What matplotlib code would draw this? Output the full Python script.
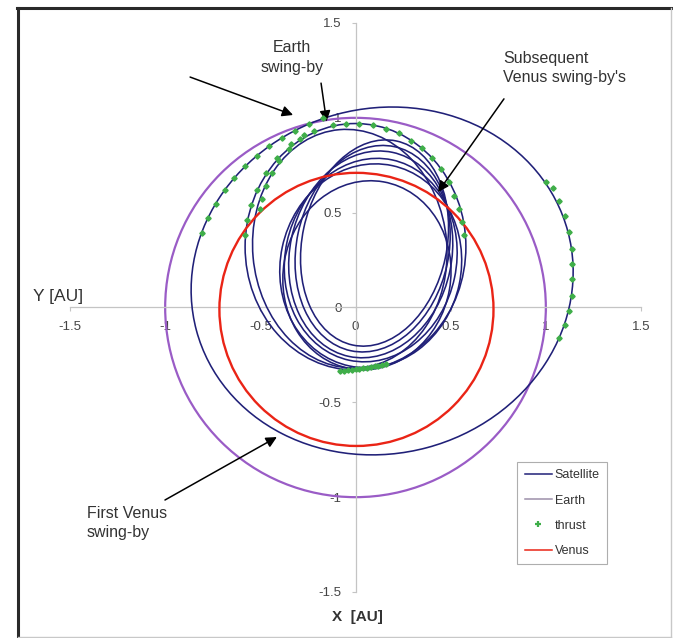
import matplotlib.pyplot as plt
from matplotlib.patches import Ellipse, Circle
from matplotlib.lines import Line2D

plt.rcParams['font.family'] = ['Liberation Sans', 'DejaVu Sans']

W, H = 673, 638

# --------- orbits [AU] ---------
earth_r = 1.0
venus_r = 0.72
venus_c = (0.005, -0.01)

# satellite loops: centre x, centre y, width, height, tilt [deg]
sat_cx = [0.14, 0.00, -0.03, 0.10, 0.09, 0.08, 0.08, 0.08, 0.06]
sat_cy = [0.14, 0.32, 0.31, 0.34, 0.31, 0.28, 0.25, 0.22, 0.17]
sat_w = [2.02, 1.16, 1.02, 0.76, 0.80, 0.85, 0.90, 0.95, 0.88]
sat_h = [1.82, 1.30, 1.26, 1.10, 1.10, 1.10, 1.08, 1.08, 1.00]
sat_ang = [15, 0, 5, -12, -12, -12, -12, -12, -10]

# thrust points
thrust_x = [-0.17, -0.246, -0.318, -0.388, -0.455, -0.519, -0.58, -0.636, -0.688, -0.734, -0.775, -0.809,
            -0.22, -0.29, -0.35, -0.40, -0.44, -0.47, -0.49, -0.50,
            -0.27, -0.34, -0.41, -0.47, -0.52, -0.55, -0.57, -0.58,
            -0.12, -0.05, 0.02, 0.09, 0.16, 0.23, 0.29, 0.35, 0.40, 0.45, 0.49, 0.52, 0.545, 0.56, 0.57,
            1.00, 1.04, 1.07, 1.10, 1.12, 1.14, 1.14, 1.14, 1.14, 1.12, 1.10, 1.07,
            -0.08, -0.06, -0.04, -0.02, 0.00, 0.02, 0.04, 0.06, 0.08, 0.10, 0.12, 0.14, 0.16]
thrust_y = [1.00, 0.967, 0.933, 0.894, 0.849, 0.799, 0.744, 0.684, 0.618, 0.547, 0.473, 0.394,
            0.93, 0.89, 0.835, 0.77, 0.71, 0.64, 0.57, 0.52,
            0.91, 0.86, 0.79, 0.71, 0.62, 0.54, 0.46, 0.38,
            0.96, 0.97, 0.97, 0.96, 0.94, 0.92, 0.88, 0.84, 0.79, 0.73, 0.66, 0.59, 0.52, 0.45, 0.38,
            0.66, 0.63, 0.56, 0.48, 0.40, 0.31, 0.23, 0.15, 0.06, -0.02, -0.09, -0.16,
            -0.335, -0.333, -0.33, -0.328, -0.325, -0.322, -0.32, -0.317, -0.314, -0.311, -0.308, -0.305, -0.30]

ticks = [-1.5, -1, -0.5, 0, 0.5, 1, 1.5]
tick_labels = ['-1.5', '-1', '-0.5', '0', '0.5', '1', '1.5']

NAVY = '#202078'
EARTH = '#9a5cc6'
VENUS = '#ea2416'
GREEN = '#3fae49'

fig = plt.figure(figsize=(W / 100, H / 100), dpi=100)
ax = fig.add_axes([70 / W, 1 - 592 / H, 571 / W, 569 / H])
ax.set_xlim(-1.5, 1.5)
ax.set_ylim(-1.5, 1.5)

for s in ['top', 'right']:
    ax.spines[s].set_visible(False)
for s in ['left', 'bottom']:
    ax.spines[s].set_position('zero')
    ax.spines[s].set_color('#c4c4c4')
    ax.spines[s].set_linewidth(0.9)
ax.set_xticks(ticks, tick_labels)
ax.set_yticks(ticks, tick_labels)
ax.tick_params(length=3, width=0.8, color='#c4c4c4', labelsize=9.5, labelcolor='#444444', pad=7)

ax.add_patch(Circle((0, 0), earth_r, fill=False, ec=EARTH, lw=1.6, zorder=2))
for cx, cy, w, h, a in zip(sat_cx, sat_cy, sat_w, sat_h, sat_ang):
    ax.add_patch(Ellipse((cx, cy), w, h, angle=a, fill=False, ec=NAVY, lw=1.15, zorder=3))
ax.add_patch(Circle(venus_c, venus_r, fill=False, ec=VENUS, lw=1.7, zorder=4))
ax.plot(thrust_x, thrust_y, ls='none', marker='D', ms=2.7, color=GREEN, zorder=5)

# --------- annotations ---------
arr = dict(arrowstyle='-|>', color='black', lw=1.1, mutation_scale=16, shrinkA=0, shrinkB=0)
ax.annotate('', xy=(-0.328, 1.015), xytext=(-0.869, 1.215), arrowprops=arr)
ax.annotate('', xy=(-0.152, 0.98), xytext=(-0.181, 1.183), arrowprops=arr)
ax.text(-0.334, 1.318, 'Earth\nswing-by', ha='center', va='center',
        fontsize=11.5, color='#333333', linespacing=1.35)
ax.annotate('', xy=(0.434, 0.609), xytext=(0.78, 1.10), arrowprops=arr)
ax.text(0.775, 1.262, 'Subsequent\nVenus swing-by\'s', ha='left', va='center',
        fontsize=11.5, color='#333333', linespacing=1.35)
ax.annotate('', xy=(-0.413, -0.683), xytext=(-1.001, -1.015), arrowprops=arr)
ax.text(-1.411, -1.135, 'First Venus\nswing-by', ha='left', va='center',
        fontsize=11.5, color='#333333', linespacing=1.35)

fig.text(33 / W, 1 - 296 / H, 'Y [AU]', fontsize=12.5, color='#333333', va='center')
fig.text(357 / W, 1 - 617 / H, 'X  [AU]', fontsize=11, fontweight='bold', color='#333333',
         ha='center', va='center')

handles = [Line2D([], [], color=NAVY, lw=1.1),
           Line2D([], [], color='#9c90aa', lw=1.1),
           Line2D([], [], ls='none', marker='+', ms=5, mew=1.6, color=GREEN),
           Line2D([], [], color=VENUS, lw=1.1)]
leg = ax.legend(handles, ['Satellite', 'Earth', 'thrust', 'Venus'], loc='upper left',
                bbox_to_anchor=(517 / W, 1 - 462 / H), bbox_transform=fig.transFigure,
                fancybox=False, edgecolor='#9a9a9a', fontsize=9, handlelength=2.2,
                handletextpad=0.2, labelspacing=1.05, borderpad=0.6, borderaxespad=0)
leg.get_frame().set_linewidth(0.8)
for t in leg.get_texts():
    t.set_color('#333333')

# outer frame
fig.add_artist(Line2D([18 / W, 18 / W], [1 - 8 / H, 1 - 637 / H], color='#2a2a2a', lw=2.2))
fig.add_artist(Line2D([17 / W, 671 / W], [1 - 8 / H, 1 - 8 / H], color='#2a2a2a', lw=2.2))
fig.add_artist(Line2D([671 / W, 671 / W], [1 - 8 / H, 1 - 637 / H], color='#c8c8c8', lw=1))
fig.add_artist(Line2D([18 / W, 671 / W], [1 - 637 / H, 1 - 637 / H], color='#c8c8c8', lw=1))

plt.savefig('out.png', dpi=100)
